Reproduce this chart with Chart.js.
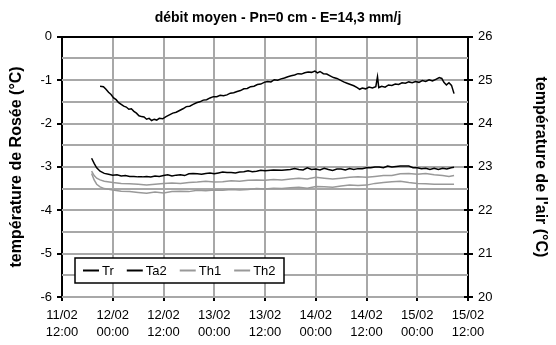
<!DOCTYPE html>
<html>
<head>
<meta charset="utf-8">
<script src="https://cdn.jsdelivr.net/npm/chart.js@4.4.1/dist/chart.umd.min.js"></script>
<style>
html, body { margin: 0; padding: 0; background: #fff; }
</style>
</head>
<body>
<canvas id="chart" width="556" height="345"></canvas>
<script>
// x = hours since 11/02 12:00
const dayLabels = ['11/02', '12/02', '12/02', '13/02', '13/02', '14/02', '14/02', '15/02', '15/02'];
const hourLabels = ['12:00', '00:00', '12:00', '00:00', '12:00', '00:00', '12:00', '00:00', '12:00'];

// horizontal grid every 0.5 °C on the left axis
const gridValues = [0, -0.5, -1, -1.5, -2, -2.5, -3, -3.5, -4, -4.5, -5, -5.5, -6];

// Tr - température de rosée (axe gauche)
const trHours = [9.0, 9.8, 10.4, 11.0, 11.6, 12.2, 12.8, 13.4, 14.0, 14.6, 15.2, 15.8, 16.4, 17.0, 17.6, 18.2, 18.8, 19.4, 20.0, 20.6,
    21.2, 21.8, 22.4, 23.0, 23.8, 24.6, 25.4, 26.2, 27.0, 27.8, 28.6, 29.4, 30.2, 31.0, 31.8, 32.6, 33.4, 34.2, 35.0, 35.8,
    36.6, 37.4, 38.2, 39.0, 39.8, 40.6, 41.4, 42.2, 43.0, 43.8, 44.6, 45.4, 46.2, 47.0, 47.8, 48.6, 49.4, 50.2, 51.0, 51.8,
    52.6, 53.4, 54.2, 55.0, 55.8, 56.6, 57.4, 58.2, 59.0, 59.8, 60.4, 61.0, 61.8, 62.6, 63.4, 64.2, 65.0, 65.8, 66.6, 67.4,
    68.2, 69.0, 69.8, 70.4, 71.0, 71.8, 72.6, 73.4, 74.2, 74.6, 74.9, 75.6, 76.4, 77.2, 78.0, 78.8, 79.6, 80.4, 81.2, 82.0,
    82.8, 83.6, 84.4, 85.2, 86.0, 86.8, 87.6, 88.4, 89.2, 89.8, 90.3, 90.9, 91.5, 92.1, 92.7];
const trValues = [-1.14, -1.15, -1.21, -1.28, -1.33, -1.41, -1.45, -1.52, -1.56, -1.60, -1.62, -1.67, -1.66, -1.72, -1.76, -1.82, -1.84, -1.85, -1.90, -1.88,
    -1.93, -1.90, -1.92, -1.88, -1.89, -1.84, -1.80, -1.76, -1.74, -1.70, -1.66, -1.61, -1.60, -1.56, -1.52, -1.50, -1.46, -1.45, -1.41, -1.38,
    -1.38, -1.35, -1.36, -1.34, -1.30, -1.29, -1.26, -1.24, -1.20, -1.19, -1.15, -1.14, -1.10, -1.09, -1.05, -1.03, -1.04, -0.99, -1.00, -0.97,
    -0.95, -0.92, -0.90, -0.88, -0.85, -0.86, -0.83, -0.81, -0.82, -0.79, -0.83, -0.80, -0.85, -0.86, -0.90, -0.94, -0.96, -1.00, -1.04, -1.07,
    -1.10, -1.13, -1.17, -1.21, -1.18, -1.20, -1.16, -1.18, -1.15, -0.92, -1.17, -1.14, -1.16, -1.11, -1.12, -1.09, -1.10, -1.06, -1.07, -1.04,
    -1.06, -1.03, -1.05, -1.01, -1.03, -0.99, -1.02, -0.98, -0.94, -0.96, -1.05, -1.11, -1.06, -1.12, -1.31];

// Ta2, Th1, Th2 - température de l'air (axe droit)
const ta2Hours = [7.0, 7.6, 8.2, 9, 10, 11, 12, 13, 14, 15, 16, 17, 18, 19, 20, 21, 22, 23, 24, 25, 26, 27, 28, 29, 30, 31, 32, 33, 34, 35,
    36, 37, 38, 39, 40, 41, 42, 43, 44, 45, 46, 47, 48, 50, 52, 54, 55, 56, 57, 58, 59, 60, 61, 62, 63, 64, 65, 66, 67, 68,
    69, 70, 71, 72, 73, 74, 75, 76, 77, 78, 79, 80, 81, 82, 83, 84, 85, 86, 87, 88, 89, 90, 91, 92, 92.7];
const ta2Values = [23.20, 23.08, 22.98, 22.90, 22.85, 22.83, 22.81, 22.82, 22.79, 22.80, 22.78, 22.78, 22.77, 22.77, 22.78, 22.77, 22.79, 22.78, 22.80, 22.82, 22.79, 22.81, 22.82, 22.80, 22.84, 22.85, 22.84, 22.83, 22.85, 22.86,
    22.84, 22.86, 22.88, 22.87, 22.87, 22.86, 22.88, 22.89, 22.91, 22.89, 22.90, 22.92, 22.91, 22.93, 22.92, 22.94, 22.96, 22.94, 22.93, 22.98, 22.94, 22.95, 22.93, 22.97, 22.94, 22.92, 22.95, 22.95, 22.93, 22.96,
    22.94, 22.96, 22.96, 22.98, 22.98, 23.00, 23.00, 22.98, 23.02, 23.00, 23.01, 23.02, 23.02, 23.02, 22.98, 22.98, 22.96, 22.97, 22.94, 22.97, 22.94, 22.97, 22.95, 22.98, 22.99];

const thHours = [7.0, 7.6, 8.2, 9, 10, 12, 14, 16, 18, 20, 22, 24, 26, 28, 30, 32, 34, 36, 38, 40, 42, 44, 46, 48, 50, 52, 54, 56, 58, 60,
    62, 64, 66, 68, 70, 72, 74, 76, 78, 80, 82, 84, 86, 88, 90, 91.5, 92.7];
const th1Values = [22.90, 22.80, 22.74, 22.70, 22.67, 22.64, 22.62, 22.61, 22.60, 22.58, 22.60, 22.62, 22.63, 22.62, 22.64, 22.65, 22.67, 22.65, 22.66, 22.68, 22.67, 22.69, 22.70, 22.69, 22.71, 22.70, 22.72, 22.74, 22.72, 22.76,
    22.74, 22.72, 22.74, 22.76, 22.77, 22.76, 22.78, 22.80, 22.80, 22.84, 22.85, 22.83, 22.85, 22.82, 22.80, 22.78, 22.80];
const th2Values = [22.85, 22.70, 22.60, 22.54, 22.50, 22.47, 22.44, 22.43, 22.41, 22.39, 22.42, 22.40, 22.43, 22.44, 22.43, 22.46, 22.45, 22.47, 22.46, 22.48, 22.47, 22.48, 22.50, 22.49, 22.51, 22.50, 22.52, 22.53, 22.51, 22.55,
    22.54, 22.53, 22.56, 22.58, 22.57, 22.58, 22.62, 22.64, 22.66, 22.67, 22.64, 22.62, 22.61, 22.60, 22.60, 22.60, 22.60];

const FONT = "'Liberation Sans', Arial, sans-serif";

function pts(xs, ys) {
    return xs.map((x, i) => ({x: x, y: ys[i]}));
}

// quadrillage horizontal, placé par l'échelle y, tracé avant les courbes
const gridPlugin = {
    id: 'gridPlugin',
    beforeDatasetsDraw(chart) {
        const ctx = chart.ctx;
        const a = chart.chartArea;
        const y = chart.scales.y;
        ctx.save();
        ctx.fillStyle = '#a8a8a8';
        gridValues.forEach(v => {
            const py = Math.round(y.getPixelForValue(v));
            ctx.fillRect(a.left, py - 1, a.right - a.left, 2);
        });
        ctx.restore();
    }
};

// cadre, graduations, légende
const framePlugin = {
    id: 'framePlugin',
    afterDraw(chart) {
        const ctx = chart.ctx;
        const a = chart.chartArea;
        const y = chart.scales.y;
        const y2 = chart.scales.y2;
        ctx.save();
        ctx.fillStyle = '#000';
        ctx.fillRect(a.left, Math.round(a.top) - 1, a.right - a.left, 2);
        gridValues.filter(v => Number.isInteger(v)).forEach(v => {
            const py = Math.round(y.getPixelForValue(v));
            ctx.fillRect(a.left - 5, py - 1, 5, 2);
        });
        y2.ticks.forEach(t => {
            const py = Math.round(y2.getPixelForValue(t.value));
            ctx.fillRect(a.right - 4, py - 1, 9, 2);
        });

        // légende
        const bx = a.left + 13, by = a.bottom - 39, bw = 209, bh = 25;
        ctx.fillStyle = '#fff';
        ctx.fillRect(bx, by, bw, bh);
        ctx.strokeStyle = '#000';
        ctx.lineWidth = 1.5;
        ctx.strokeRect(bx, by, bw, bh);
        ctx.font = '13px ' + FONT;
        ctx.textBaseline = 'middle';
        let x = bx + 8;
        const cy = by + bh / 2;
        chart.data.datasets.forEach(ds => {
            ctx.strokeStyle = ds.borderColor;
            ctx.lineWidth = 2;
            ctx.beginPath();
            ctx.moveTo(x, cy);
            ctx.lineTo(x + 16, cy);
            ctx.stroke();
            ctx.fillStyle = '#000';
            ctx.fillText(ds.label, x + 19, cy + 1);
            x += 19 + ctx.measureText(ds.label).width + 13;
        });
        ctx.restore();
    }
};

new Chart(document.getElementById('chart').getContext('2d'), {
    type: 'line',
    data: {
        datasets: [
            {label: 'Tr', data: pts(trHours, trValues), yAxisID: 'y', borderColor: '#000', borderWidth: 1.5},
            {label: 'Ta2', data: pts(ta2Hours, ta2Values), yAxisID: 'y2', borderColor: '#000', borderWidth: 1.5},
            {label: 'Th1', data: pts(thHours, th1Values), yAxisID: 'y2', borderColor: '#999', borderWidth: 1.5},
            {label: 'Th2', data: pts(thHours, th2Values), yAxisID: 'y2', borderColor: '#999', borderWidth: 1.5}
        ]
    },
    options: {
        responsive: false,
        animation: false,
        layout: {padding: 0},
        elements: {point: {radius: 0}, line: {tension: 0}},
        plugins: {
            legend: {display: false},
            tooltip: {enabled: false},
            title: {
                display: true,
                text: 'débit moyen - Pn=0 cm - E=14,3 mm/j',
                color: '#000',
                font: {family: FONT, size: 14, weight: 'bold'},
                padding: {top: 10, bottom: 10}
            }
        },
        scales: {
            x: {
                type: 'linear',
                min: 0,
                max: 96,
                afterFit: s => { s.height = 48; },
                border: {color: '#000', width: 2},
                grid: {color: '#a8a8a8', lineWidth: 2, tickLength: 4, tickColor: '#000'},
                ticks: {
                    stepSize: 12,
                    autoSkip: false,
                    maxRotation: 0,
                    padding: 6,
                    color: '#000',
                    font: {family: FONT, size: 13, lineHeight: 1.3},
                    callback: v => [dayLabels[v / 12], hourLabels[v / 12]]
                }
            },
            y: {
                position: 'left',
                min: -6,
                max: 0,
                afterFit: s => { s.width = 62; },
                border: {color: '#000', width: 2},
                grid: {drawOnChartArea: false, drawTicks: true, tickLength: 5, tickColor: 'rgba(0,0,0,0)'},
                ticks: {
                    stepSize: 1,
                    autoSkip: false,
                    padding: 5,
                    color: '#000',
                    font: {family: FONT, size: 13}
                },
                title: {
                    display: true,
                    text: 'température de Rosée (°C)',
                    color: '#000',
                    font: {family: FONT, size: 16, weight: 'bold'},
                    padding: {top: 7, bottom: 0}
                }
            },
            y2: {
                position: 'right',
                min: 20,
                max: 26,
                afterFit: s => { s.width = 88; },
                border: {color: '#000', width: 2},
                grid: {drawOnChartArea: false, drawTicks: true, tickLength: 5, tickColor: 'rgba(0,0,0,0)'},
                ticks: {
                    stepSize: 1,
                    padding: 5,
                    color: '#000',
                    font: {family: FONT, size: 13}
                },
                title: {
                    display: true,
                    text: "température de l'air (°C)",
                    color: '#000',
                    font: {family: FONT, size: 16, weight: 'bold'},
                    padding: {top: 6, bottom: 0}
                }
            }
        }
    },
    plugins: [gridPlugin, framePlugin]
});
</script>
</body>
</html>
